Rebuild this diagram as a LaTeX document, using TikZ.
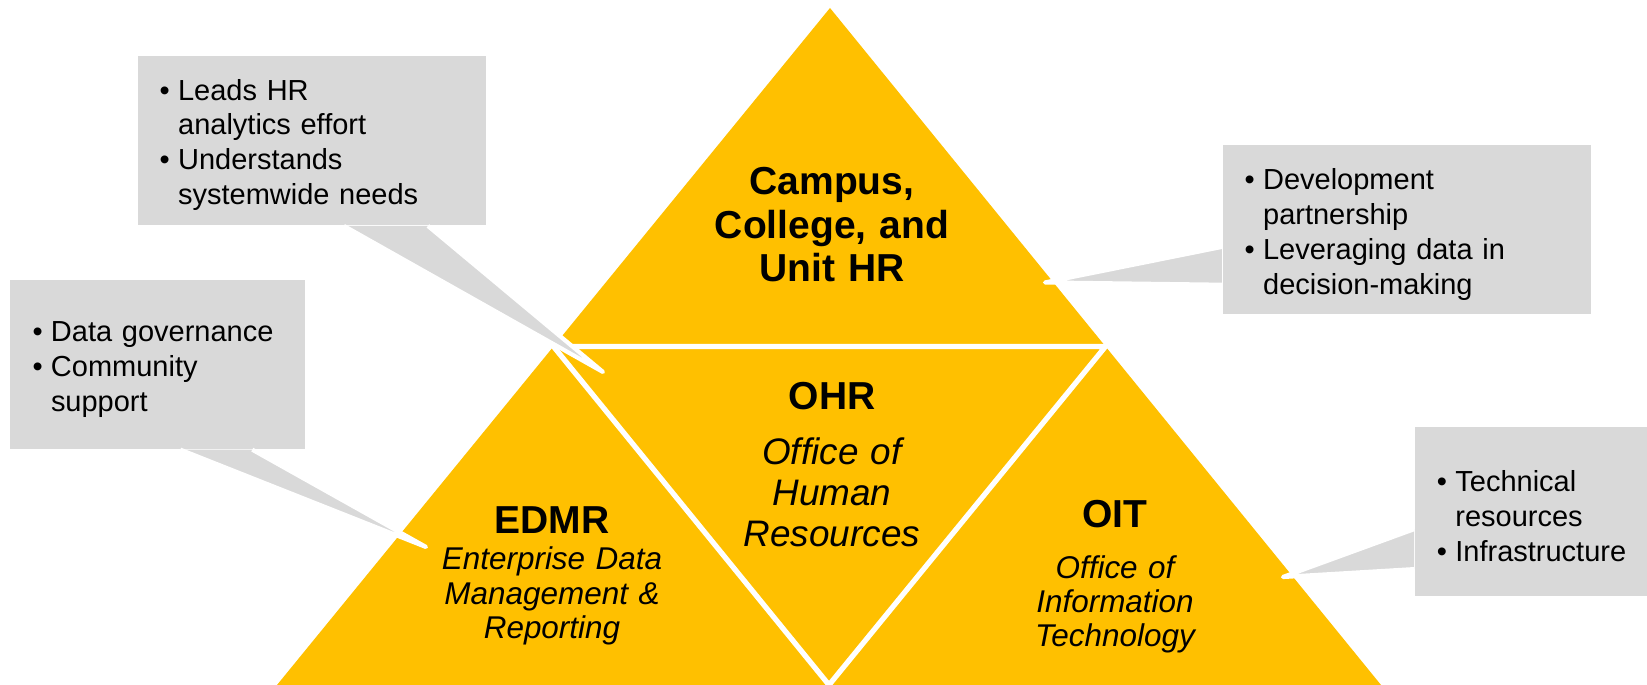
\documentclass[tikz,border=0pt]{standalone}
\usepackage{fontspec}
\setmainfont{Liberation Sans}
\usepackage{tikz}
\definecolor{pyrgold}{HTML}{FFC000}
\definecolor{notegray}{HTML}{D9D9D9}
\newcommand{\bitem}[1]{\makebox[1.85mm][l]{\textbullet}#1}
\newcommand{\bcont}[1]{\hspace*{1.85mm}#1}
\tikzset{
  seam/.style={draw=white,line width=1.5pt,line join=miter},
  tribold/.style={font=\fontsize{11.1pt}{12.3pt}\selectfont\bfseries,align=center,text width=4cm,anchor=base,inner sep=0pt},
  trisub/.style={font=\fontsize{8.95pt}{9.7pt}\selectfont\itshape,align=center,text width=3.4cm,anchor=base,inner sep=0pt},
  notebox/.style={fill=notegray,inner xsep=2.2mm,inner ysep=0pt,minimum height=1.69cm,align=left,
                  font=\fontsize{8.25pt}{9.95pt}\selectfont,execute at begin node={\rule{0pt}{8.4pt}}},
  notetail/.style={fill=notegray,draw=white,line width=1.2pt,line join=round}
}
\begin{document}
\begin{tikzpicture}
                      \useasboundingbox (0,0) rectangle (16.47,6.85);
                      \coordinate (top) at (8.30,6.77);
                      \coordinate (bl) at (2.77,0);
                      \coordinate (br) at (13.81,0);
                      \coordinate (ml) at (5.535,3.385);
                      \coordinate (mr) at (11.055,3.385);
                      \coordinate (mb) at (8.29,0);
                      \fill[pyrgold] (top) -- (bl) -- (br) -- cycle;
                      \draw[seam] (ml) -- (mr) -- (mb) -- cycle;

                      \node[tribold](campus)at(8.32,4.90){Campus,\\College, and\\Unit HR};
                      \node[tribold](ohr)at(8.32,2.75){OHR};
                      \node[trisub,font=\fontsize{10.5pt}{11.65pt}\selectfont\itshape](ohrtext)at(8.32,2.20){Office of\\Human\\Resources};
                      \node[tribold](edmr)at(5.52,1.517){EDMR};
                      \node[trisub](edmrtext)at(5.52,1.15){Enterprise Data\\Management \&\\Reporting};
                      \node[tribold](oit)at(11.15,1.577){OIT};
                      \node[trisub,font=\fontsize{8.95pt}{9.6pt}\selectfont\itshape](oittext)at(11.15,1.06){Office of\\Information\\Technology};

                      \node[notebox,text width=3.047cm](leads)at(3.12,5.4425){\bitem{Leads HR}\\\bcont{analytics effort}\\\bitem{Understands}\\\bcont{systemwide needs}};
                      \node[notebox,text width=3.247cm](devel)at(14.07,4.55){\bitem{Development}\\\bcont{partnership}\\\bitem{Leveraging data in}\\\bcont{decision-making}};
                      \node[notebox,text width=2.501cm](govern)at(1.5755,3.205){\bitem{Data governance}\\\bitem{Community}\\\bcont{support}};
                      \node[notebox,text width=2.011cm](techres)at(15.3745,1.7345){\bitem{Technical}\\\bcont{resources}\\\bitem{Infrastructure}};

                      \coordinate (leadstip) at (6.03,3.13);
                      \coordinate (develtip) at (10.45,4.025);
                      \coordinate (governtip) at (4.26,1.38);
                      \coordinate (techtip) at (12.83,1.08);
                      \path[notetail] ([xshift=2.069cm]leads.south west) -- (leadstip) -- ([xshift=2.91cm]leads.south west);
                      \path[notetail] ([yshift=0.683cm]devel.south west) -- (develtip) -- ([yshift=0.304cm]devel.south west);
                      \path[notetail] ([xshift=1.705cm]govern.south west) -- (governtip) -- ([xshift=2.425cm]govern.south west);
                      \path[notetail] ([yshift=0.676cm]techres.south west) -- (techtip) -- ([yshift=0.276cm]techres.south west);
                  \end{tikzpicture}
\end{document}
